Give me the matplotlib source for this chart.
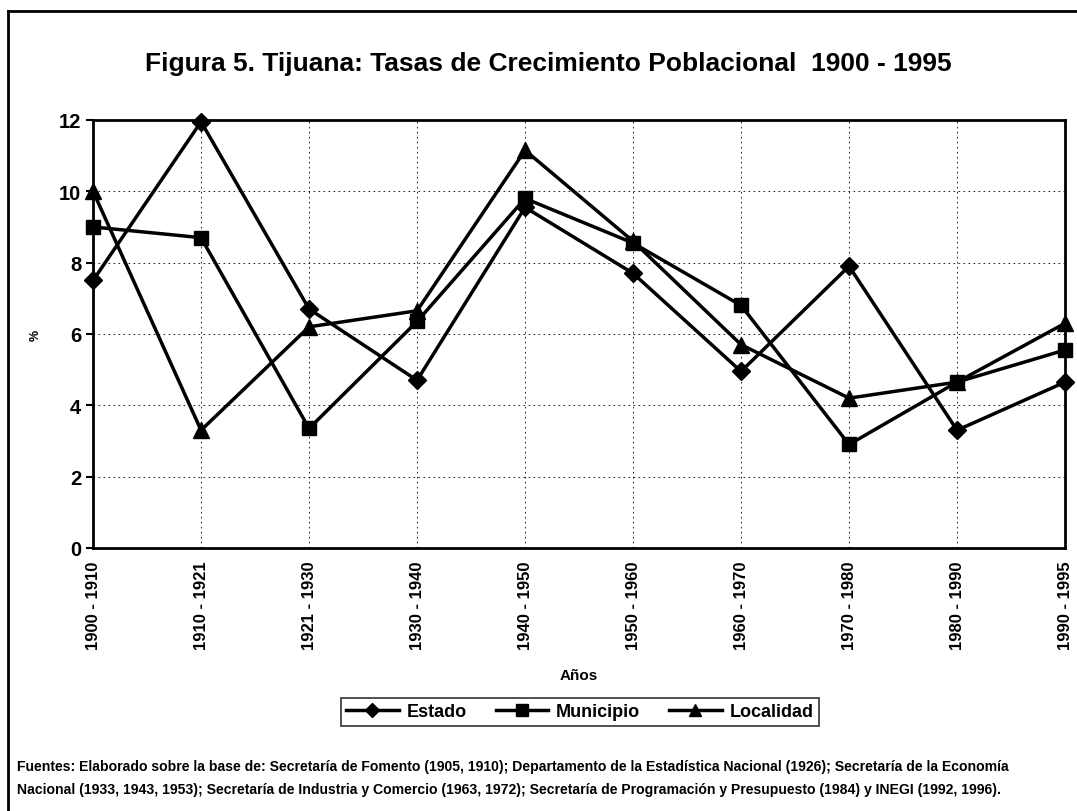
import matplotlib
matplotlib.use("Agg")
import matplotlib.pyplot as plt
from matplotlib.lines import Line2D

periodos = ["1900 - 1910", "1910 - 1921", "1921 - 1930", "1930 - 1940", "1940 - 1950",
            "1950 - 1960", "1960 - 1970", "1970 - 1980", "1980 - 1990", "1990 - 1995"]
estado = [7.5, 11.95, 6.7, 4.7, 9.55, 7.7, 4.95, 7.9, 3.3, 4.65]
municipio = [9.0, 8.7, 3.35, 6.35, 9.8, 8.55, 6.8, 2.9, 4.65, 5.55]
localidad = [10.0, 3.3, 6.2, 6.65, 11.15, 8.6, 5.7, 4.2, 4.65, 6.3]
yticks = [0, 2, 4, 6, 8, 10, 12]

plt.rcParams['font.family'] = ['Liberation Sans', 'DejaVu Sans']

fig = plt.figure(figsize=(10.77, 8.12), dpi=100)
ax = fig.add_axes([0.0864, 0.324, 0.9025, 0.527])

x = list(range(len(periodos)))
ax.plot(x, estado, color='black', lw=2.5, marker='D', ms=9, label='Estado', clip_on=False, zorder=3)
ax.plot(x, municipio, color='black', lw=2.5, marker='s', ms=10, label='Municipio', clip_on=False, zorder=3)
ax.plot(x, localidad, color='black', lw=2.5, marker='^', ms=11, label='Localidad', clip_on=False, zorder=3)

ax.set_xlim(0, len(periodos) - 1)
ax.set_ylim(0, 12)
ax.set_yticks(yticks)
ax.set_yticklabels([str(v) for v in yticks], fontsize=14.5, fontweight='bold')
ax.set_xticks(x)
ax.set_xticklabels(periodos, rotation=90, fontsize=12, fontweight='bold')
ax.grid(True, color='black', ls=(0, (2, 4)), lw=0.6)
ax.tick_params(axis='y', direction='out', length=5, width=1.5)
ax.tick_params(axis='x', direction='out', length=0, pad=9)
for s in ax.spines.values():
    s.set_linewidth(2)
ax.set_ylabel('%', fontsize=9, fontweight='bold', labelpad=12, rotation=90)
ax.set_xlabel('Años', fontsize=11, fontweight='bold', labelpad=14)

fig.text(0.509, 0.9126, 'Figura 5. Tijuana: Tasas de Crecimiento Poblacional  1900 - 1995',
         ha='center', va='baseline', fontsize=19, fontweight='bold')

leg = fig.legend(loc='center', bbox_to_anchor=(0.5385, 0.122), ncol=3,
                 prop={'size': 13, 'weight': 'bold'},
                 frameon=True, fancybox=False, edgecolor='black', handlelength=2.9,
                 columnspacing=1.6, handletextpad=0.45, borderpad=0.3, markerscale=0.8)
leg.get_frame().set_linewidth(1.2)

fig.text(0.016, 0.055,
         'Fuentes: Elaborado sobre la base de: Secretaría de Fomento (1905, 1910); Departamento de la Estadística Nacional (1926); Secretaría de la Economía',
         fontsize=10.1, fontweight='bold', ha='left', va='center')
fig.text(0.016, 0.027,
         'Nacional (1933, 1943, 1953); Secretaría de Industria y Comercio (1963, 1972); Secretaría de Programación y Presupuesto (1984) y INEGI (1992, 1996).',
         fontsize=10.1, fontweight='bold', ha='left', va='center')

fig.add_artist(Line2D([0.0075, 1.0], [0.985, 0.985], transform=fig.transFigure, color='black', lw=2))
fig.add_artist(Line2D([0.0075, 0.0075], [0.0, 0.985], transform=fig.transFigure, color='black', lw=2))

fig.savefig('out.png', dpi=100)
